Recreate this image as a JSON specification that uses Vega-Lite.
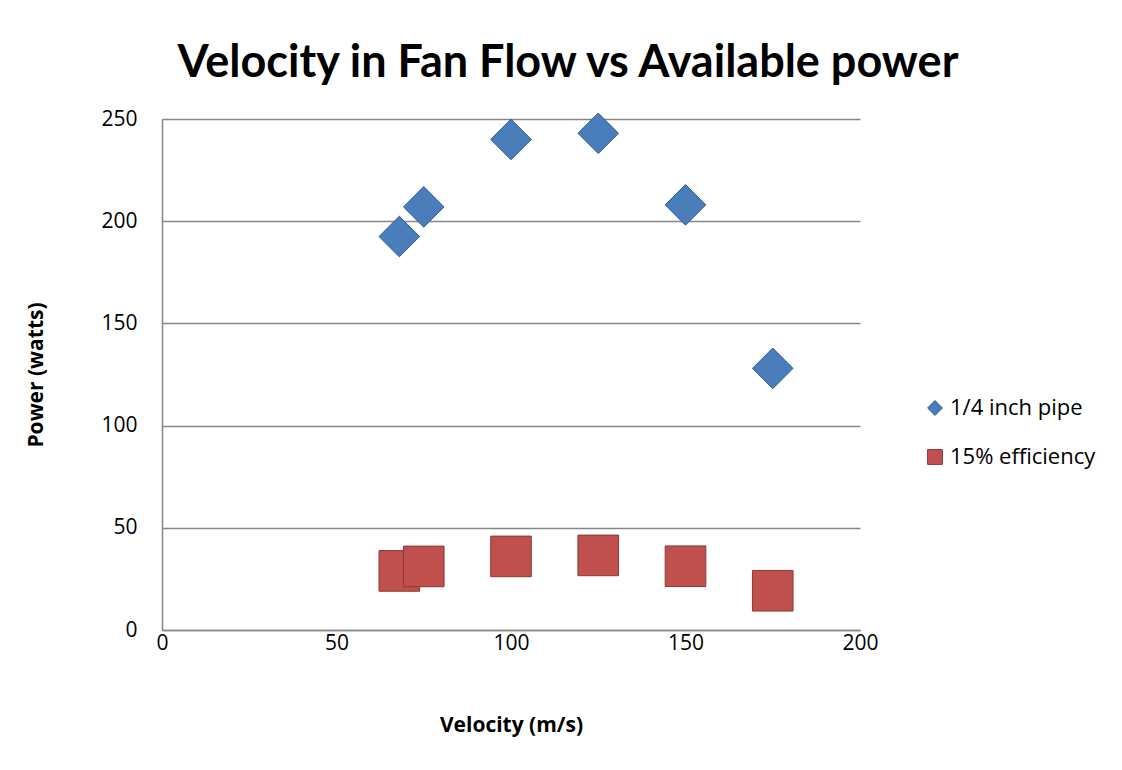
{
  "$schema": "https://vega.github.io/schema/vega-lite/v6.json",
  "width": 698,
  "height": 511,
  "autosize": {"type": "none"},
  "padding": {"left": 162, "top": 119, "right": 262, "bottom": 140},
  "background": "white",
  "title": {
    "text": "Velocity in Fan Flow vs Available power",
    "anchor": "middle",
    "frame": "group",
    "dx": 57,
    "offset": 22,
    "font": "Lato",
    "fontSize": 45,
    "fontWeight": "bold",
    "color": "black"
  },
  "data": {
    "values": [
      {"velocity": 68, "power": 192.5, "series": "1/4 inch pipe"},
      {"velocity": 75, "power": 207, "series": "1/4 inch pipe"},
      {"velocity": 100, "power": 240, "series": "1/4 inch pipe"},
      {"velocity": 125, "power": 243, "series": "1/4 inch pipe"},
      {"velocity": 150, "power": 208, "series": "1/4 inch pipe"},
      {"velocity": 175, "power": 128, "series": "1/4 inch pipe"},
      {"velocity": 68, "power": 28.9, "series": "15% efficiency"},
      {"velocity": 75, "power": 31.1, "series": "15% efficiency"},
      {"velocity": 100, "power": 36, "series": "15% efficiency"},
      {"velocity": 125, "power": 36.5, "series": "15% efficiency"},
      {"velocity": 150, "power": 31.2, "series": "15% efficiency"},
      {"velocity": 175, "power": 19.2, "series": "15% efficiency"}
    ]
  },
  "mark": {"type": "point", "filled": true, "size": 1650, "opacity": 1, "strokeWidth": 1},
  "encoding": {
    "x": {
      "field": "velocity",
      "type": "quantitative",
      "scale": {"domain": [0, 200], "nice": false, "zero": true},
      "axis": {
        "values": [0, 50, 100, 150, 200],
        "title": "Velocity (m/s)",
        "grid": false,
        "ticks": false,
        "labelFlush": false,
        "labelPadding": 2,
        "titlePadding": 61
      }
    },
    "y": {
      "field": "power",
      "type": "quantitative",
      "scale": {"domain": [0, 250], "nice": false},
      "axis": {
        "values": [0, 50, 100, 150, 200, 250],
        "title": "Power (watts)",
        "grid": true,
        "ticks": false,
        "labelFlush": false,
        "labelPadding": 25,
        "titlePadding": 54
      }
    },
    "color": {
      "field": "series",
      "type": "nominal",
      "scale": {"domain": ["1/4 inch pipe", "15% efficiency"], "range": ["#4a7ebb", "#c0504d"]},
      "legend": {
        "title": null,
        "orient": "none",
        "legendX": 762,
        "legendY": 278,
        "symbolSize": 220,
        "symbolStrokeWidth": 1,
        "rowPadding": 27,
        "labelFontSize": 22,
        "labelOffset": 4,
        "labelFont": "Open Sans",
        "labelColor": "black"
      }
    },
    "shape": {
      "field": "series",
      "type": "nominal",
      "scale": {"domain": ["1/4 inch pipe", "15% efficiency"], "range": ["diamond", "square"]},
      "legend": null
    },
    "stroke": {
      "field": "series",
      "type": "nominal",
      "scale": {"domain": ["1/4 inch pipe", "15% efficiency"], "range": ["#2c5d98", "#8c3836"]},
      "legend": null
    }
  },
  "config": {
    "view": {"stroke": null},
    "axis": {
      "domainColor": "#868686",
      "domainWidth": 1.5,
      "gridColor": "#868686",
      "gridWidth": 1.5,
      "labelFont": "Open Sans",
      "labelFontSize": 21,
      "labelColor": "black",
      "titleFont": "Open Sans",
      "titleFontSize": 21,
      "titleFontWeight": "bold",
      "titleColor": "black"
    }
  }
}
